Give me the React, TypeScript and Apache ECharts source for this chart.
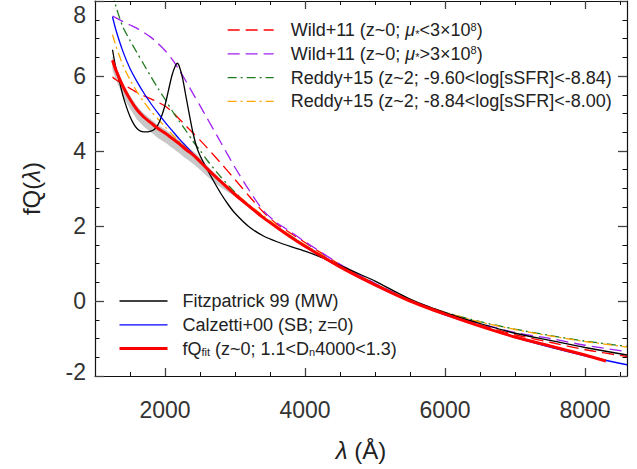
import React, { useEffect, useRef } from 'react';
import * as echarts from 'echarts';

// ---------- tick labels ----------
const xMajorTicks = [2000, 4000, 6000, 8000];
const xMinorTicks = [1500, 2500, 3000, 3500, 4500, 5000, 5500, 6500, 7000, 7500, 8500];
const yTickLabels = [-2, 0, 2, 4, 6, 8];

// ---------- wavelengths (Angstrom) ----------
const lamCommon = [1250, 1300, 1400, 1500, 1600, 1700, 1800, 1900, 2000, 2100, 2200, 2300, 2400, 2500, 2600, 2800, 3000, 3200, 3400, 3600, 3800, 4000, 4500, 5000, 5500, 6000, 6500, 7000, 7500, 8000, 8600];
const lamFit = [1250, 1300, 1400, 1500, 1600, 1700, 1800, 1900, 2000, 2100, 2200, 2300, 2400, 2500, 2600, 2800, 3000, 3200, 3400, 3600, 3800, 4000, 4500, 5000, 5500, 6000, 6500, 7000, 7500, 8000, 8300];
const lamBand = [1250, 1300, 1400, 1500, 1600, 1700, 1800, 1900, 2000, 2100, 2200, 2300, 2400, 2500, 2600, 2800, 3000];
const lamF99 = [1250, 1300, 1350, 1400, 1450, 1500, 1550, 1600, 1650, 1700, 1750, 1800, 1850, 1900, 1950, 2000, 2050, 2100, 2150, 2175, 2200, 2250, 2300, 2350, 2400, 2450, 2500, 2600, 2700, 2800, 2900, 3000, 3200, 3400, 3600, 3800, 4000, 4200, 4400, 4600, 4800, 5000, 5500, 6000, 6500, 7000, 7500, 8000, 8600];

// ---------- series values fQ(lambda) ----------
const wildLow = [5.97, 5.90, 5.78, 5.67, 5.56, 5.47, 5.39, 5.30, 5.20, 5.05, 4.86, 4.67, 4.48, 4.29, 4.09, 3.67, 3.24, 2.80, 2.38, 2.05, 1.80, 1.56, 0.97, 0.46, 0.02, -0.32, -0.63, -0.90, -1.10, -1.30, -1.48];
const wildHigh = [7.60, 7.55, 7.45, 7.36, 7.27, 7.16, 7.03, 6.87, 6.68, 6.45, 6.17, 5.86, 5.53, 5.21, 4.88, 4.22, 3.56, 2.96, 2.42, 2.08, 1.84, 1.58, 0.98, 0.47, 0.03, -0.30, -0.60, -0.84, -1.00, -1.18, -1.35];
const reddyLow = [8.25, 7.85, 7.30, 6.95, 6.62, 6.30, 5.98, 5.67, 5.38, 5.08, 4.80, 4.54, 4.26, 4.02, 3.76, 3.30, 2.90, 2.55, 2.25, 1.98, 1.73, 1.49, 0.94, 0.45, 0.02, -0.30, -0.55, -0.75, -0.92, -1.07, -1.21];
const reddyHigh = [7.10, 6.80, 6.28, 5.90, 5.58, 5.30, 5.06, 4.85, 4.65, 4.45, 4.26, 4.08, 3.90, 3.72, 3.55, 3.20, 2.88, 2.57, 2.28, 2.00, 1.74, 1.50, 0.94, 0.44, 0.02, -0.30, -0.56, -0.76, -0.93, -1.08, -1.23];
const fitzpatrick = [6.70, 6.20, 5.85, 5.47, 5.17, 4.92, 4.73, 4.60, 4.53, 4.51, 4.51, 4.53, 4.58, 4.70, 4.92, 5.22, 5.62, 6.02, 6.28, 6.34, 6.28, 5.95, 5.45, 4.95, 4.48, 4.12, 3.88, 3.52, 3.18, 2.86, 2.58, 2.34, 1.98, 1.74, 1.58, 1.45, 1.33, 1.19, 1.03, 0.87, 0.70, 0.53, 0.05, -0.31, -0.60, -0.86, -1.05, -1.24, -1.44];
const calzetti = [7.58, 7.22, 6.65, 6.20, 5.85, 5.54, 5.26, 5.01, 4.77, 4.55, 4.33, 4.13, 3.93, 3.73, 3.54, 3.18, 2.84, 2.53, 2.23, 1.96, 1.70, 1.45, 0.90, 0.42, 0.00, -0.37, -0.67, -0.97, -1.23, -1.46, -1.70];
const fqFit = [6.42, 6.15, 5.72, 5.38, 5.10, 4.90, 4.75, 4.60, 4.48, 4.34, 4.20, 4.04, 3.90, 3.72, 3.53, 3.18, 2.84, 2.53, 2.23, 1.96, 1.70, 1.46, 0.91, 0.43, 0.00, -0.35, -0.67, -0.96, -1.20, -1.44, -1.60];
const bandLower = [6.17, 5.90, 5.47, 5.13, 4.85, 4.65, 4.50, 4.35, 4.23, 4.09, 3.95, 3.80, 3.66, 3.50, 3.33, 3.03, 2.80];
const bandUpper = [6.52, 6.25, 5.82, 5.48, 5.20, 5.00, 4.85, 4.70, 4.58, 4.44, 4.30, 4.14, 4.00, 3.82, 3.62, 3.24, 2.87];

// ---------- names ----------
const N_WLO = 'Wild+11 (z~0; μ*<3×10^8)';
const N_WHI = 'Wild+11 (z~0; μ*>3×10^8)';
const N_RLO = 'Reddy+15 (z~2; -9.60<log[sSFR]<-8.84)';
const N_RHI = 'Reddy+15 (z~2; -8.84<log[sSFR]<-8.00)';
const N_F99 = 'Fitzpatrick 99 (MW)';
const N_CAL = 'Calzetti+00 (SB; z=0)';
const N_FIT = 'fQfit (z~0; 1.1<Dn4000<1.3)';

const legendRich: Record<string, string> = {
  [N_WLO]: 'Wild+11 (z~0; {i|μ}{sub|*}<3×10{sup|8})',
  [N_WHI]: 'Wild+11 (z~0; {i|μ}{sub|*}>3×10{sup|8})',
  [N_RLO]: N_RLO,
  [N_RHI]: N_RHI,
  [N_F99]: N_F99,
  [N_CAL]: N_CAL,
  [N_FIT]: 'fQ{sub|fit} (z~0; 1.1<D{sub|n}4000<1.3)',
};

const FONT = '"Liberation Sans", Arial, Helvetica, sans-serif';
const LEG_FS = 18;
const TICK_FS = 23;
const NAME_FS = 24;

const pairs = (xs: number[], ys: number[]) => xs.map((x, i) => [x, ys[i]]);

const lineSeries = (name: string, xs: number[], ys: number[], color: string, width: number, dash: any, z: number) => ({
  type: 'line',
  name,
  data: pairs(xs, ys),
  xAxisIndex: 0,
  yAxisIndex: 0,
  symbol: 'none',
  showSymbol: false,
  smooth: 0.25,
  clip: true,
  silent: true,
  z,
  lineStyle: { color, width, type: dash },
  itemStyle: { color },
});

const richText = {
  i: { fontStyle: 'italic', fontSize: LEG_FS, fontFamily: FONT, color: '#222', lineHeight: 18 },
  sub: { fontSize: 11, fontFamily: FONT, color: '#222', lineHeight: 8, verticalAlign: 'bottom' },
  sup: { fontSize: 11, fontFamily: FONT, color: '#222', lineHeight: 8, verticalAlign: 'top' },
};

const legendBase = {
  orient: 'vertical',
  padding: 0,
  itemHeight: 14,
  itemGap: 5.8,
  selectedMode: false,
  itemStyle: { opacity: 0 },
  lineStyle: { width: 'inherit' },
  formatter: (name: string) => legendRich[name] || name,
};

const tickLine = { color: '#444', width: 1.3 };
const plainNum = (v: number) => String(v);

const option: any = {
  animation: false,
  backgroundColor: '#ffffff',
  grid: [
    { left: 95, right: 10, top: 1, bottom: 93, containLabel: false },
    { left: 95, right: 10, top: 1, bottom: 93, containLabel: false },
  ],
  xAxis: [
    {
      gridIndex: 0, type: 'value', min: 1000, max: 8600, position: 'bottom',
      axisLine: { show: true, onZero: false, lineStyle: { color: '#111', width: 1.2 } },
      axisTick: { show: true, inside: true, length: 8, customValues: xMajorTicks, lineStyle: tickLine },
      axisLabel: { customValues: xMajorTicks, formatter: plainNum, fontSize: TICK_FS, margin: 22, color: '#333', fontFamily: FONT },
      splitLine: { show: false },
      name: '{i|λ} (Å)', nameLocation: 'middle', nameGap: 62,
      nameTextStyle: { fontSize: NAME_FS, color: '#222', fontFamily: FONT, rich: { i: { fontStyle: 'italic', fontSize: NAME_FS, fontFamily: FONT, color: '#222' } } },
    },
    {
      gridIndex: 0, type: 'value', min: 1000, max: 8600, position: 'top',
      axisLine: { show: true, onZero: false, lineStyle: { color: '#111', width: 1.2 } },
      axisTick: { show: true, inside: true, length: 8, customValues: xMajorTicks, lineStyle: tickLine },
      axisLabel: { show: false },
      splitLine: { show: false },
    },
    {
      gridIndex: 1, type: 'value', min: 1000, max: 8600, position: 'bottom',
      axisLine: { show: false, onZero: false },
      axisTick: { show: true, inside: true, length: 4, customValues: xMinorTicks, lineStyle: { color: '#111', width: 1 } },
      axisLabel: { show: false },
      splitLine: { show: false },
    },
    {
      gridIndex: 1, type: 'value', min: 1000, max: 8600, position: 'top',
      axisLine: { show: false, onZero: false },
      axisTick: { show: true, inside: true, length: 4, customValues: xMinorTicks, lineStyle: { color: '#111', width: 1 } },
      axisLabel: { show: false },
      splitLine: { show: false },
    },
  ],
  yAxis: [
    {
      gridIndex: 0, type: 'value', min: -2, max: 8, interval: 2, position: 'left',
      axisLine: { show: true, onZero: false, lineStyle: { color: '#111', width: 1.2 } },
      axisTick: { show: true, inside: true, length: 9, lineStyle: tickLine },
      minorTick: { show: true, splitNumber: 4, length: 4.5, lineStyle: { color: '#111', width: 1 } },
      axisLabel: {
        customValues: yTickLabels, fontSize: TICK_FS, margin: 9, color: '#333', fontFamily: FONT,
        formatter: (v: number) => (v === 8 ? '{t|8}' : v === -2 ? '{b|-2}' : String(v)),
        rich: {
          t: { fontSize: TICK_FS, fontFamily: FONT, color: '#333', padding: [28, 0, 0, 0] },
          b: { fontSize: TICK_FS, fontFamily: FONT, color: '#333', padding: [0, 0, 9, 0] },
        },
      },
      splitLine: { show: false },
      name: 'fQ({i|λ})', nameLocation: 'middle', nameGap: 52, nameRotate: 90,
      nameTextStyle: { fontSize: NAME_FS, color: '#222', fontFamily: FONT, rich: { i: { fontStyle: 'italic', fontSize: NAME_FS, fontFamily: FONT, color: '#222' } } },
    },
    {
      gridIndex: 0, type: 'value', min: -2, max: 8, interval: 2, position: 'right',
      axisLine: { show: true, onZero: false, lineStyle: { color: '#111', width: 1.2 } },
      axisTick: { show: true, inside: true, length: 9, lineStyle: tickLine },
      minorTick: { show: true, splitNumber: 4, length: 4.5, lineStyle: { color: '#111', width: 1 } },
      axisLabel: { show: false },
      splitLine: { show: false },
    },
    { gridIndex: 1, type: 'value', min: -2, max: 8, show: false },
  ],
  legend: [
    {
      ...legendBase,
      left: 227, top: 21, itemWidth: 46,
      data: [N_WLO, N_WHI, N_RLO, N_RHI],
      textStyle: { fontSize: LEG_FS, fontFamily: FONT, color: '#222', lineHeight: 18, padding: [0, 0, 0, 12], rich: richText },
    },
    {
      ...legendBase,
      left: 118, top: 292, itemWidth: 48,
      data: [N_F99, N_CAL, N_FIT],
      textStyle: { fontSize: LEG_FS, fontFamily: FONT, color: '#222', lineHeight: 18, padding: [0, 0, 0, 10], rich: richText },
    },
  ],
  series: [
    {
      type: 'custom',
      name: 'fQfit band',
      xAxisIndex: 0,
      yAxisIndex: 0,
      silent: true,
      z: 1,
      data: [[lamBand[0], bandLower[0]]],
      renderItem: (_params: any, api: any) => {
        const upper = lamBand.map((x, i) => api.coord([x, bandUpper[i]]));
        const lower = lamBand.map((x, i) => api.coord([x, bandLower[i]])).reverse();
        return {
          type: 'polygon',
          shape: { points: upper.concat(lower), smooth: 0.2 },
          style: { fill: '#c8c8c8', stroke: 'none' },
        };
      },
    },
    lineSeries(N_WLO, lamCommon, wildLow, '#ff0000', 1.3, [12, 6], 2),
    lineSeries(N_WHI, lamCommon, wildHigh, '#a020f0', 1.3, [12, 6], 2),
    lineSeries(N_RLO, lamCommon, reddyLow, '#1e7b1e', 1.3, [9, 4, 2, 4], 2),
    lineSeries(N_RHI, lamCommon, reddyHigh, '#ffa500', 1.3, [9, 4, 2, 4], 2),
    lineSeries(N_F99, lamF99, fitzpatrick, '#000000', 1.3, 'solid', 3),
    lineSeries(N_CAL, lamCommon, calzetti, '#0000ff', 1.3, 'solid', 3),
    lineSeries(N_FIT, lamFit, fqFit, '#ff0000', 3, 'solid', 4),
  ],
};

export default function App() {
  const ref = useRef<HTMLDivElement>(null);
  useEffect(() => {
    if (!ref.current) return;
    const chart = echarts.init(ref.current, null, { renderer: 'svg' });
    chart.setOption(option);
    return () => chart.dispose();
  }, []);
  return <div ref={ref} style={{ position: 'absolute', left: 0, top: 0, width: 637, height: 469 }} />;
}
